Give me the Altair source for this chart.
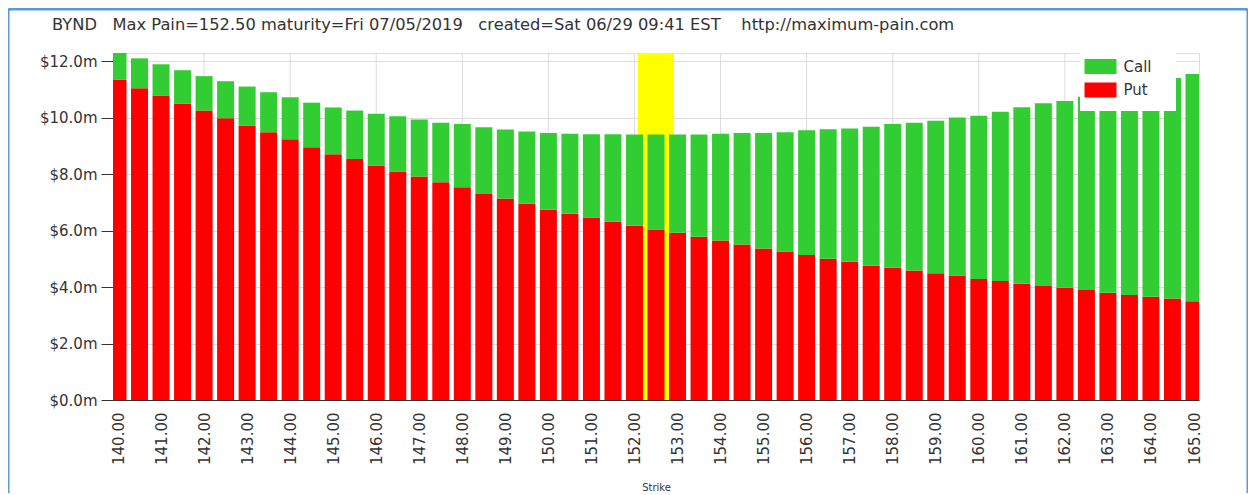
import altair as alt
import pandas as pd

# ---------------- data (values in $ millions) ----------------
strikes = [140.0, 140.5, 141.0, 141.5, 142.0, 142.5, 143.0, 143.5, 144.0, 144.5,
           145.0, 145.5, 146.0, 146.5, 147.0, 147.5, 148.0, 148.5, 149.0, 149.5,
           150.0, 150.5, 151.0, 151.5, 152.0, 152.5, 153.0, 153.5, 154.0, 154.5,
           155.0, 155.5, 156.0, 156.5, 157.0, 157.5, 158.0, 158.5, 159.0, 159.5,
           160.0, 160.5, 161.0, 161.5, 162.0, 162.5, 163.0, 163.5, 164.0, 164.5,
           165.0]
put_values = [11.35, 11.05, 10.79, 10.51, 10.26, 9.99, 9.73, 9.49, 9.24, 8.96,
              8.71, 8.54, 8.31, 8.10, 7.92, 7.72, 7.54, 7.30, 7.14, 6.96,
              6.74, 6.60, 6.47, 6.32, 6.18, 6.04, 5.93, 5.79, 5.65, 5.51,
              5.37, 5.26, 5.14, 5.01, 4.90, 4.76, 4.69, 4.59, 4.49, 4.41,
              4.29, 4.22, 4.12, 4.04, 3.98, 3.90, 3.80, 3.72, 3.66, 3.60,
              3.50]
call_values = [0.95, 1.06, 1.11, 1.18, 1.22, 1.31, 1.38, 1.42, 1.49, 1.58,
               1.66, 1.72, 1.84, 1.96, 2.02, 2.11, 2.24, 2.37, 2.45, 2.56,
               2.72, 2.84, 2.95, 3.10, 3.23, 3.37, 3.48, 3.62, 3.79, 3.95,
               4.09, 4.23, 4.42, 4.59, 4.72, 4.93, 5.09, 5.24, 5.41, 5.60,
               5.79, 6.00, 6.26, 6.48, 6.62, 6.85, 7.10, 7.33, 7.56, 7.81,
               8.06]
series_names = ["Call", "Put"]
series_colors = ["#32CD32", "#FF0000"]
max_pain = [152.5]
tick_strikes = [140, 141, 142, 143, 144, 145, 146, 147, 148, 149, 150, 151, 152,
                153, 154, 155, 156, 157, 158, 159, 160, 161, 162, 163, 164, 165]
grid_strikes = [142, 144, 146, 148, 150, 152, 154, 156, 158, 160, 162, 164]
y_ticks = [0, 2, 4, 6, 8, 10, 12]
title_text = ("BYND\u00a0\u00a0 Max Pain=152.50 maturity=Fri 07/05/2019\u00a0\u00a0 "
              "created=Sat 06/29 09:41 EST\u00a0\u00a0\u00a0 http://maximum-pain.com")

rows = []
for s, p, c in zip(strikes, put_values, call_values):
    rows.append({"strike": s, "series": "Put", "value": p, "rank": 0})
    rows.append({"strike": s, "series": "Call", "value": c, "rank": 1})
df = pd.DataFrame(rows)

FONT = "DejaVu Sans"
TXT = "#333333"
W, H = 1086, 347

xscale = alt.Scale(domain=[140, 165], nice=False, zero=False)
yscale = alt.Scale(domain=[0, 12.3], nice=False)

x_axis = alt.Axis(values=tick_strikes, format=".2f", labelAngle=-90,
                  labelFlush=False, labelOverlap=False,
                  labelFont=FONT, labelFontSize=15, labelColor=TXT,
                  ticks=False, labelPadding=12, grid=False,
                  domainColor="#333333",
                  title="Strike", titleFont=FONT, titleFontSize=10,
                  titleFontWeight="normal", titleColor=TXT,
                  titlePadding=18)

grid = alt.Chart(pd.DataFrame({"strike": grid_strikes})).mark_rule(
    color="#dcdcdc", strokeWidth=1
).encode(x=alt.X("strike:Q", scale=xscale, axis=x_axis))

highlight = alt.Chart(pd.DataFrame({"strike": max_pain})).mark_bar(
    color="#FFFF00", size=36
).encode(
    x=alt.X("strike:Q", scale=xscale, axis=x_axis),
    y=alt.value(0),
    y2=alt.value(H),
)

bars = alt.Chart(df).mark_bar(size=17, clip=True).encode(
    x=alt.X("strike:Q", scale=xscale, axis=x_axis),
    y=alt.Y("value:Q", stack="zero", scale=yscale,
            axis=alt.Axis(values=y_ticks,
                          labelExpr="'$' + format(datum.value, '.1f') + 'm'",
                          labelFont=FONT, labelFontSize=15, labelColor=TXT,
                          tickSize=12, tickColor="#333333", labelPadding=4,
                          domainColor="#333333", grid=True,
                          gridColor="#dcdcdc", title=None)),
    color=alt.Color("series:N",
                    scale=alt.Scale(domain=series_names, range=series_colors),
                    legend=alt.Legend(
                        orient="none", legendX=967, legendY=-7,
                        fillColor="white", padding=13,
                        title="w", titleOrient="right", titleFontSize=10,
                        titlePadding=3, titleOpacity=0,
                        symbolType="M-2.13,-1H2.13V1H-2.13Z", symbolSize=225,
                        symbolStrokeWidth=0, symbolOpacity=1,
                        labelFont=FONT, labelFontSize=15, labelColor=TXT,
                        labelOffset=15.5, rowPadding=7.5)),
    order=alt.Order("rank:Q", sort="ascending"),
)

frame = alt.Chart(alt.Data(values=[{"f": 1}])).mark_rect(
    filled=False, stroke="#5b9bd5", strokeWidth=3, cornerRadius=3
).encode(
    x=alt.value(-105), x2=alt.value(1135),
    y=alt.value(-44), y2=alt.value(600),
)

chart = alt.layer(grid, highlight, bars, frame).properties(
    width=W, height=H,
    title=alt.TitleParams(text=title_text, anchor="start", frame="group",
                          dx=-61, dy=38, font=FONT, fontSize=16.3,
                          fontWeight="normal", color=TXT, offset=12),
    autosize=alt.AutoSizeParams(type="none"),
    padding={"left": 105, "top": 45, "right": 49, "bottom": 93},
).configure_view(strokeWidth=0).configure(background="white")

chart.save("out.html", embed_options={"renderer": "svg", "actions": False})
